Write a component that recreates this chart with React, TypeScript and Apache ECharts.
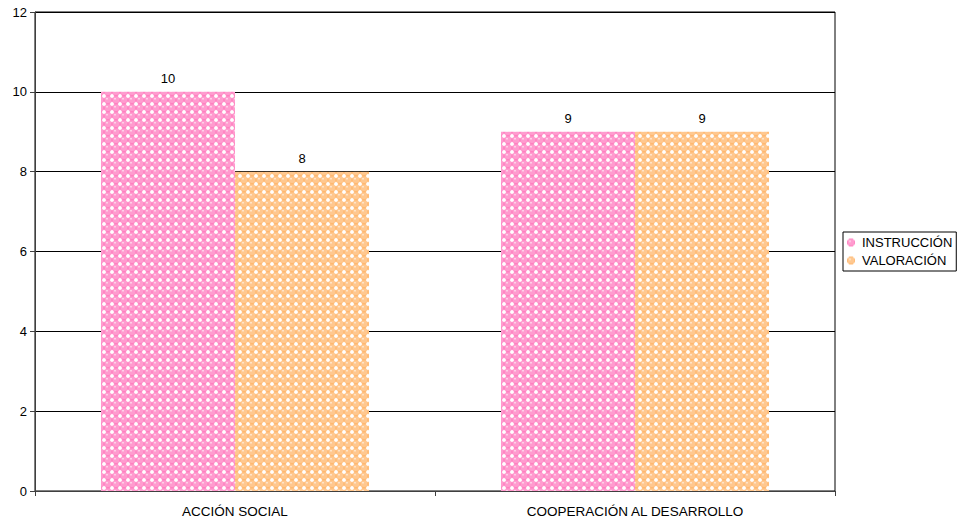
import React, { useEffect, useRef } from "react";
import * as echarts from "echarts";

const categories = ["ACCIÓN SOCIAL", "COOPERACIÓN AL DESARROLLO"];
const instruccion = [10, 9];
const valoracion = [8, 9];
const seriesNames = ["INSTRUCCIÓN", "VALORACIÓN"];

function makeTile(main: string, dark: string, light: string): HTMLCanvasElement {
  const c = document.createElement("canvas");
  c.width = 8;
  c.height = 8;
  const g = c.getContext("2d")!;
  g.fillStyle = "#ffffff";
  g.fillRect(0, 0, 8, 8);
  g.fillStyle = dark;
  g.beginPath();
  g.arc(4, 4, 4.2, 0, Math.PI * 2);
  g.fill();
  g.fillStyle = main;
  g.beginPath();
  g.arc(4, 3.7, 3.3, 0, Math.PI * 2);
  g.fill();
  g.fillStyle = "#ffffff";
  g.fillRect(0, 0, 1.5, 1.5);
  g.fillRect(6.5, 0, 1.5, 1.5);
  g.fillRect(0, 6.5, 1.5, 1.5);
  g.fillRect(6.5, 6.5, 1.5, 1.5);
  g.fillStyle = light;
  g.fillRect(2, 2, 2, 1.5);
  return c;
}

export default function App() {
  const ref = useRef<HTMLDivElement>(null);
  useEffect(() => {
    document.body.style.margin = "0";
    const chart = echarts.init(ref.current!, null, { renderer: "svg" });
    const pink = { image: makeTile("#ff9ccf", "#ff80c0", "#ffd0e8"), repeat: "repeat" } as any;
    const orange = { image: makeTile("#ffc890", "#ffb870", "#ffe4c8"), repeat: "repeat" } as any;
    const font = "Arial, 'Liberation Sans', sans-serif";
    chart.setOption({
      animation: false,
      textStyle: { fontFamily: font },
      grid: {
        left: 35,
        right: 124,
        top: 12,
        bottom: 28,
        show: true,
        borderColor: "#000",
        borderWidth: 1,
        backgroundColor: "#fff",
      },
      legend: {
        orient: "vertical",
        left: 843,
        top: 232,
        itemWidth: 8,
        itemHeight: 8,
        itemGap: 5,
        padding: [4, 4, 4, 4],
        borderColor: "#000",
        borderWidth: 1,
        icon: "rect",
        textStyle: { fontSize: 13, color: "#000", fontFamily: font, padding: [0, 0, 0, 2] },
        data: seriesNames,
      },
      xAxis: {
        type: "category",
        data: categories,
        axisLine: { lineStyle: { color: "#404040" } },
        axisTick: { show: true, length: 5, lineStyle: { color: "#404040" } },
        axisLabel: { color: "#000", fontSize: 13.5, margin: 13, fontFamily: font },
      },
      yAxis: {
        type: "value",
        min: 0,
        max: 12,
        interval: 2,
        axisLine: { show: true, lineStyle: { color: "#404040" } },
        axisTick: { show: true, length: 5, lineStyle: { color: "#404040" } },
        axisLabel: { color: "#000", fontSize: 13, margin: 8, fontFamily: font },
        splitLine: { lineStyle: { color: "#000", width: 1 } },
      },
      series: [
        {
          name: seriesNames[0],
          type: "bar",
          data: instruccion,
          barGap: "0%",
          barCategoryGap: "33%",
          itemStyle: { color: pink },
          label: { show: true, position: "top", color: "#000", fontSize: 13, distance: 7, fontFamily: font },
        },
        {
          name: seriesNames[1],
          type: "bar",
          data: valoracion,
          barGap: "0%",
          barCategoryGap: "33%",
          itemStyle: { color: orange },
          label: { show: true, position: "top", color: "#000", fontSize: 13, distance: 7, fontFamily: font },
        },
      ],
    });
    return () => chart.dispose();
  }, []);
  return <div ref={ref} style={{ width: 959, height: 519 }} />;
}
